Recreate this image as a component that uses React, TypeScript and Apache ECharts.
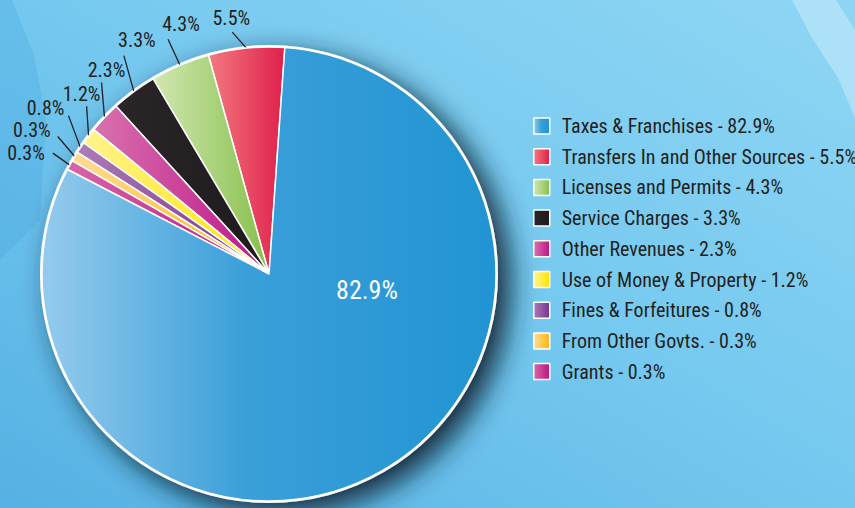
import React, { useEffect, useRef } from "react";
import * as echarts from "echarts";

const categories = [
  "Taxes & Franchises",
  "Transfers In and Other Sources",
  "Licenses and Permits",
  "Service Charges",
  "Other Revenues",
  "Use of Money & Property",
  "Fines & Forfeitures",
  "From Other Govts.",
  "Grants",
];
const values = [82.9, 5.5, 4.3, 3.3, 2.3, 1.2, 0.8, 0.3, 0.3];
const colorStops: [string, string][] = [
  ["#95cbed", "#2194d3"],
  ["#f27a80", "#e01f4b"],
  ["#d2e7b0", "#86c04c"],
  ["#2a2627", "#1f1b1c"],
  ["#d872ae", "#be1487"],
  ["#fff48e", "#ffe500"],
  ["#ad7cb6", "#763390"],
  ["#ffdc94", "#fbb612"],
  ["#d766a8", "#bc1283"],
];
// drawing order (counter-clockwise from the top): small slices first, taxes last
const drawOrder = [1, 2, 3, 4, 5, 6, 7, 8, 0];

// leader-line direction and text offset (from the line end) for each outside label, by category index
type LabelPlace = { line: [number, number]; text: [number, number]; align: string; vAlign: string };
const labelPlacement: Record<number, LabelPlace> = {
  1: { line: [-14, -16], text: [-1, -4], align: "center", vAlign: "bottom" },
  2: { line: [-12, -26], text: [13, -5], align: "center", vAlign: "bottom" },
  3: { line: [-10, -36], text: [13, -6], align: "center", vAlign: "bottom" },
  4: { line: [-3, -35], text: [5, -3], align: "center", vAlign: "bottom" },
  5: { line: [-2, -30], text: [-5, -2], align: "center", vAlign: "bottom" },
  6: { line: [-12, -32], text: [-4, 2], align: "right", vAlign: "bottom" },
  7: { line: [-17, -20], text: [-7, 3], align: "right", vAlign: "bottom" },
  8: { line: [-17, -12], text: [-8, 0], align: "right", vAlign: "middle" },
};

const FONT = "'Roboto Condensed', 'Liberation Sans Narrow', sans-serif";

export default function App() {
  const ref = useRef<HTMLDivElement>(null);
  useEffect(() => {
    const chart = echarts.init(ref.current!, null, { renderer: "svg" });
    const grad = (c: [string, string], mid?: string) =>
      new echarts.graphic.LinearGradient(0, 0, 1, 0,
        mid
          ? [
              { offset: 0, color: c[0] },
              { offset: 0.45, color: mid },
              { offset: 1, color: c[1] },
            ]
          : [
              { offset: 0, color: c[0] },
              { offset: 1, color: c[1] },
            ]);
    const data = drawOrder.map((i) => ({
      name: categories[i],
      value: values[i],
      itemStyle: { color: grad(colorStops[i], i === 0 ? "#3a9fd9" : undefined) },
      label:
        i === 0
          ? {
              position: "inside",
              color: "#ffffff",
              fontSize: 26,
              offset: [41, -86],
              formatter: "{c}%",
            }
          : undefined,
      labelLine: i === 0 ? { show: false } : undefined,
    }));
    const center = [269, 274];
    const radius = 227;
    chart.setOption({
      animation: false,
      backgroundColor: new echarts.graphic.LinearGradient(0, 1, 1, 0, [
        { offset: 0, color: "#55b1e3" },
        { offset: 0.5, color: "#74c8ef" },
        { offset: 1, color: "#8fd6f4" },
      ]),
      graphic: [
        {
          type: "polygon",
          silent: true,
          z: -10,
          shape: {
            points: [
              [792, 0],
              [836, 0],
              [855, 30],
              [855, 118],
              [838, 78],
              [812, 38],
            ],
          },
          style: { fill: "rgba(205,238,251,0.5)" },
        },
        {
          type: "polygon",
          silent: true,
          z: -10,
          shape: {
            points: [
              [0, 0],
              [12, 0],
              [34, 55],
              [46, 120],
              [40, 220],
              [0, 260],
            ],
          },
          style: { fill: "rgba(70,165,222,0.3)" },
        },
      ],
      legend: {
        orient: "vertical",
        left: 528,
        top: 111,
        itemWidth: 16,
        itemHeight: 16,
        itemGap: 10.7,
        icon: "rect",
        data: categories,
        itemStyle: { borderColor: "#ffffff", borderWidth: 1.5 },
        textStyle: {
          fontFamily: FONT,
          fontSize: 20,
          color: "#231f20",
          padding: [0, 0, 0, 7],
        },
        formatter: (name: string) =>
          name + " - " + values[categories.indexOf(name)] + "%",
      },
      series: [
        {
          type: "pie",
          silent: true,
          center,
          radius: radius + 2,
          z: 1,
          label: { show: false },
          labelLine: { show: false },
          itemStyle: {
            color: "#ffffff",
            shadowBlur: 28,
            shadowColor: "rgba(15,35,50,0.95)",
            shadowOffsetX: 12,
            shadowOffsetY: 10,
          },
          data: [{ name: "_base", value: 1 }],
        },
        {
          type: "pie",
          center,
          radius,
          startAngle: 86,
          minAngle: 2.5,
          clockwise: false,
          z: 2,
          avoidLabelOverlap: false,
          itemStyle: { borderColor: "#ffffff", borderWidth: 1.5 },
          label: {
            show: true,
            position: "outside",
            formatter: "{c}%",
            fontFamily: FONT,
            fontSize: 20,
            color: "#231f20",
            distanceToLabelLine: 1,
            overflow: "none",
            edgeDistance: 0,
          },
          labelLine: {
            show: true,
            length: 12,
            length2: 0,
            lineStyle: { color: "#231f20", width: 1.3 },
          },
          labelLayout: (params: any) => {
            const cat = drawOrder[params.dataIndex];
            const place = labelPlacement[cat];
            const pts = params.labelLinePoints;
            if (!place || !pts) return {};
            const a = pts[0];
            const end = [a[0] + place.line[0], a[1] + place.line[1]];
            return {
              x: end[0] + place.text[0],
              y: end[1] + place.text[1],
              align: place.align,
              verticalAlign: place.vAlign,
              labelLinePoints: [a, end],
            };
          },
          data,
        },
      ],
    });
    return () => chart.dispose();
  }, []);
  return (
    <div
      ref={ref}
      style={{ position: "fixed", left: 0, top: 0, width: 855, height: 508, fontFamily: FONT }}
    />
  );
}
